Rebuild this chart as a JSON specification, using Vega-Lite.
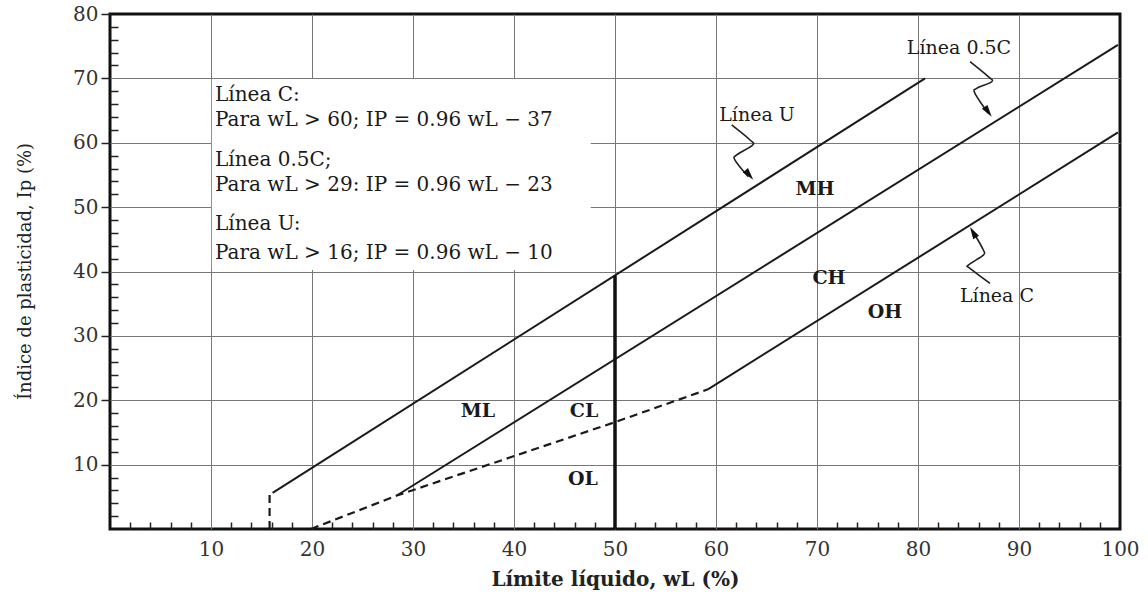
{
  "$schema": "https://vega.github.io/schema/vega-lite/v6.json",
  "width": 1010,
  "height": 515,
  "autosize": {"type": "none"},
  "padding": {"left": 110, "top": 14, "right": 28, "bottom": 65},
  "background": "white",
  "config": {
    "font": "DejaVu Serif",
    "view": {"stroke": "#111", "strokeWidth": 3},
    "axis": {"labelFont": "DejaVu Serif", "titleFont": "DejaVu Serif"}
  },
  "datasets": {
    "lines": [
      {"s": "U", "x": 16.1, "y": 5.6}, {"s": "U", "x": 80.7, "y": 70},
      {"s": "H", "x": 28.4, "y": 5.2}, {"s": "H", "x": 99.8, "y": 75.2},
      {"s": "C", "x": 59.2, "y": 21.7}, {"s": "C", "x": 99.8, "y": 61.6}
    ],
    "dashed": [
      {"s": "v", "x": 15.8, "y": 0}, {"s": "v", "x": 15.8, "y": 5.4},
      {"s": "d", "x": 19.9, "y": 0}, {"s": "d", "x": 28.4, "y": 5.2},
      {"s": "d", "x": 50, "y": 16.6}, {"s": "d", "x": 59.2, "y": 21.7}
    ],
    "thick": [{"x": 50, "y": 0}, {"x": 50, "y": 39.4}],
    "arrows": [
      {"s": "U", "o": 1, "x": 61.55, "y": 62.76},
      {"s": "U", "o": 2, "x": 63.37, "y": 60.43},
      {"s": "U", "o": 3, "x": 63.63, "y": 59.65},
      {"s": "U", "o": 4, "x": 62.05, "y": 58.1},
      {"s": "U", "o": 5, "x": 61.88, "y": 57.32},
      {"s": "U", "o": 6, "x": 63.2, "y": 54.72},
      {"s": "H", "o": 1, "x": 85.15, "y": 72.59},
      {"s": "H", "o": 2, "x": 86.96, "y": 70.26},
      {"s": "H", "o": 3, "x": 87.3, "y": 69.48},
      {"s": "H", "o": 4, "x": 85.81, "y": 68.45},
      {"s": "H", "o": 5, "x": 85.64, "y": 67.68},
      {"s": "H", "o": 6, "x": 86.96, "y": 64.57},
      {"s": "C", "o": 1, "x": 87.13, "y": 38.14},
      {"s": "C", "o": 2, "x": 85.15, "y": 40.47},
      {"s": "C", "o": 3, "x": 84.98, "y": 40.99},
      {"s": "C", "o": 4, "x": 86.47, "y": 42.55},
      {"s": "C", "o": 5, "x": 86.47, "y": 43.33},
      {"s": "C", "o": 6, "x": 85.64, "y": 45.67}
    ],
    "heads": [
      {"s": "U", "x": 63.3, "y": 55.0},
      {"s": "H", "x": 86.95, "y": 64.8},
      {"s": "C", "x": 85.45, "y": 46.1}
    ],
    "box": [{"x": 10.08, "x2": 47.6, "y": 40.25, "y2": 69.9}],
    "boxtext": [
      {"t": "Línea C:", "x": 10.4, "y": 67.4},
      {"t": "Para wL > 60; IP = 0.96 wL − 37", "x": 10.4, "y": 63.5},
      {"t": "Línea 0.5C;", "x": 10.4, "y": 57.3},
      {"t": "Para wL > 29: IP = 0.96 wL − 23", "x": 10.4, "y": 53.4},
      {"t": "Línea U:", "x": 10.4, "y": 47.4},
      {"t": "Para wL > 16; IP = 0.96 wL − 10", "x": 10.4, "y": 42.9}
    ],
    "zones": [
      {"t": "ML", "x": 36.44, "y": 18.33},
      {"t": "CL", "x": 46.93, "y": 18.33},
      {"t": "OL", "x": 46.83, "y": 7.77},
      {"t": "MH", "x": 69.8, "y": 52.8},
      {"t": "CH", "x": 71.19, "y": 38.99},
      {"t": "OH", "x": 76.73, "y": 33.71}
    ],
    "names": [
      {"t": "Línea U", "x": 64.06, "y": 64.3},
      {"t": "Línea 0.5C", "x": 84.06, "y": 74.7},
      {"t": "Línea C", "x": 87.82, "y": 36.2}
    ]
  },
  "layer": [
    {
      "data": {"name": "box"},
      "mark": {"type": "rect", "fill": "white", "stroke": null},
      "encoding": {
        "x": {
          "field": "x", "type": "quantitative",
          "scale": {"domain": [0, 100], "nice": false, "zero": false},
          "axis": {
            "values": [2,4,6,8,10,12,14,16,18,20,22,24,26,28,30,32,34,36,38,40,42,44,46,48,50,52,54,56,58,60,62,64,66,68,70,72,74,76,78,80,82,84,86,88,90,92,94,96,98,100],
            "tickCount": 500,
            "format": "d",
            "labelOverlap": false,
            "labelExpr": "datum.value % 10 == 0 ? datum.label : ''",
            "domain": false,
            "grid": true,
            "gridColor": "#777",
            "gridWidth": 1,
            "gridOpacity": {"condition": {"test": "datum.value % 10 == 0 && datum.value < 100", "value": 1}, "value": 0},
            "ticks": true,
            "tickColor": "#222",
            "tickWidth": 1.5,
            "tickSize": {"condition": {"test": "datum.value % 10 == 0", "value": 0}, "value": -7},
            "labelPadding": 10,
            "labelFontSize": 20,
            "labelColor": "#333",
            "labelFlush": false,
            "title": "Límite líquido, wL (%)",
            "titleFontSize": 20,
            "titleFontWeight": "bold",
            "titleColor": "#222",
            "titleX": 505,
            "titleY": 50,
            "titleBaseline": "middle"
          }
        },
        "x2": {"field": "x2"},
        "y": {
          "field": "y", "type": "quantitative",
          "scale": {"domain": [0, 80], "nice": false, "zero": false},
          "axis": {
            "values": [2,4,6,8,10,12,14,16,18,20,22,24,26,28,30,32,34,36,38,40,42,44,46,48,50,52,54,56,58,60,62,64,66,68,70,72,74,76,78,80],
            "tickCount": 500,
            "format": "d",
            "labelOverlap": false,
            "labelExpr": "datum.value % 10 == 0 ? datum.label : ''",
            "domain": false,
            "grid": true,
            "gridColor": "#777",
            "gridWidth": 1,
            "gridOpacity": {"condition": {"test": "datum.value % 10 == 0 && datum.value < 80", "value": 1}, "value": 0},
            "ticks": true,
            "tickColor": "#222",
            "tickWidth": 1.5,
            "tickSize": {"condition": {"test": "datum.value % 10 == 0", "value": 9}, "value": -8},
            "labelPadding": 3,
            "labelFontSize": 20,
            "labelColor": "#333",
            "labelFlush": false,
            "title": "Índice de plasticidad, Ip (%)",
            "titleFontSize": 18,
            "titleFontWeight": "normal",
            "titleColor": "#222",
            "titleX": -85,
            "titleY": 257,
            "titleBaseline": "middle"
          }
        },
        "y2": {"field": "y2"}
      }
    },
    {
      "data": {"name": "lines"},
      "mark": {"type": "line", "color": "#1a1a1a", "strokeWidth": 2},
      "encoding": {
        "x": {"field": "x", "type": "quantitative"},
        "y": {"field": "y", "type": "quantitative"},
        "detail": {"field": "s"}
      }
    },
    {
      "data": {"name": "dashed"},
      "mark": {"type": "line", "color": "#1a1a1a", "strokeWidth": 2.2, "strokeDash": [8, 5]},
      "encoding": {
        "x": {"field": "x", "type": "quantitative"},
        "y": {"field": "y", "type": "quantitative"},
        "detail": {"field": "s"}
      }
    },
    {
      "data": {"name": "thick"},
      "mark": {"type": "line", "color": "#111", "strokeWidth": 3.5},
      "encoding": {
        "x": {"field": "x", "type": "quantitative"},
        "y": {"field": "y", "type": "quantitative"}
      }
    },
    {
      "data": {"name": "arrows"},
      "mark": {"type": "line", "color": "#222", "strokeWidth": 1.6, "interpolate": "cardinal"},
      "encoding": {
        "x": {"field": "x", "type": "quantitative"},
        "y": {"field": "y", "type": "quantitative"},
        "detail": {"field": "s"},
        "order": {"field": "o"}
      }
    },
    {
      "data": {"name": "heads"},
      "transform": [{"filter": "datum.s == 'U'"}],
      "mark": {"type": "point", "shape": "M0,-1L0.55,1L-0.55,1Z", "filled": true, "color": "#111", "opacity": 1, "size": 150, "angle": 140},
      "encoding": {
        "x": {"field": "x", "type": "quantitative"},
        "y": {"field": "y", "type": "quantitative"}
      }
    },
    {
      "data": {"name": "heads"},
      "transform": [{"filter": "datum.s == 'H'"}],
      "mark": {"type": "point", "shape": "M0,-1L0.55,1L-0.55,1Z", "filled": true, "color": "#111", "opacity": 1, "size": 150, "angle": 145},
      "encoding": {
        "x": {"field": "x", "type": "quantitative"},
        "y": {"field": "y", "type": "quantitative"}
      }
    },
    {
      "data": {"name": "heads"},
      "transform": [{"filter": "datum.s == 'C'"}],
      "mark": {"type": "point", "shape": "M0,-1L0.55,1L-0.55,1Z", "filled": true, "color": "#111", "opacity": 1, "size": 150, "angle": 330},
      "encoding": {
        "x": {"field": "x", "type": "quantitative"},
        "y": {"field": "y", "type": "quantitative"}
      }
    },
    {
      "data": {"name": "boxtext"},
      "mark": {"type": "text", "align": "left", "baseline": "middle", "fontSize": 20, "color": "#1a1a1a", "font": "DejaVu Serif"},
      "encoding": {
        "x": {"field": "x", "type": "quantitative"},
        "y": {"field": "y", "type": "quantitative"},
        "text": {"field": "t"}
      }
    },
    {
      "data": {"name": "zones"},
      "mark": {"type": "text", "align": "center", "baseline": "middle", "fontSize": 19, "fontWeight": "bold", "color": "#1a1a1a", "font": "DejaVu Serif"},
      "encoding": {
        "x": {"field": "x", "type": "quantitative"},
        "y": {"field": "y", "type": "quantitative"},
        "text": {"field": "t"}
      }
    },
    {
      "data": {"name": "names"},
      "mark": {"type": "text", "align": "center", "baseline": "middle", "fontSize": 19, "color": "#1a1a1a", "font": "DejaVu Serif"},
      "encoding": {
        "x": {"field": "x", "type": "quantitative"},
        "y": {"field": "y", "type": "quantitative"},
        "text": {"field": "t"}
      }
    }
  ]
}
